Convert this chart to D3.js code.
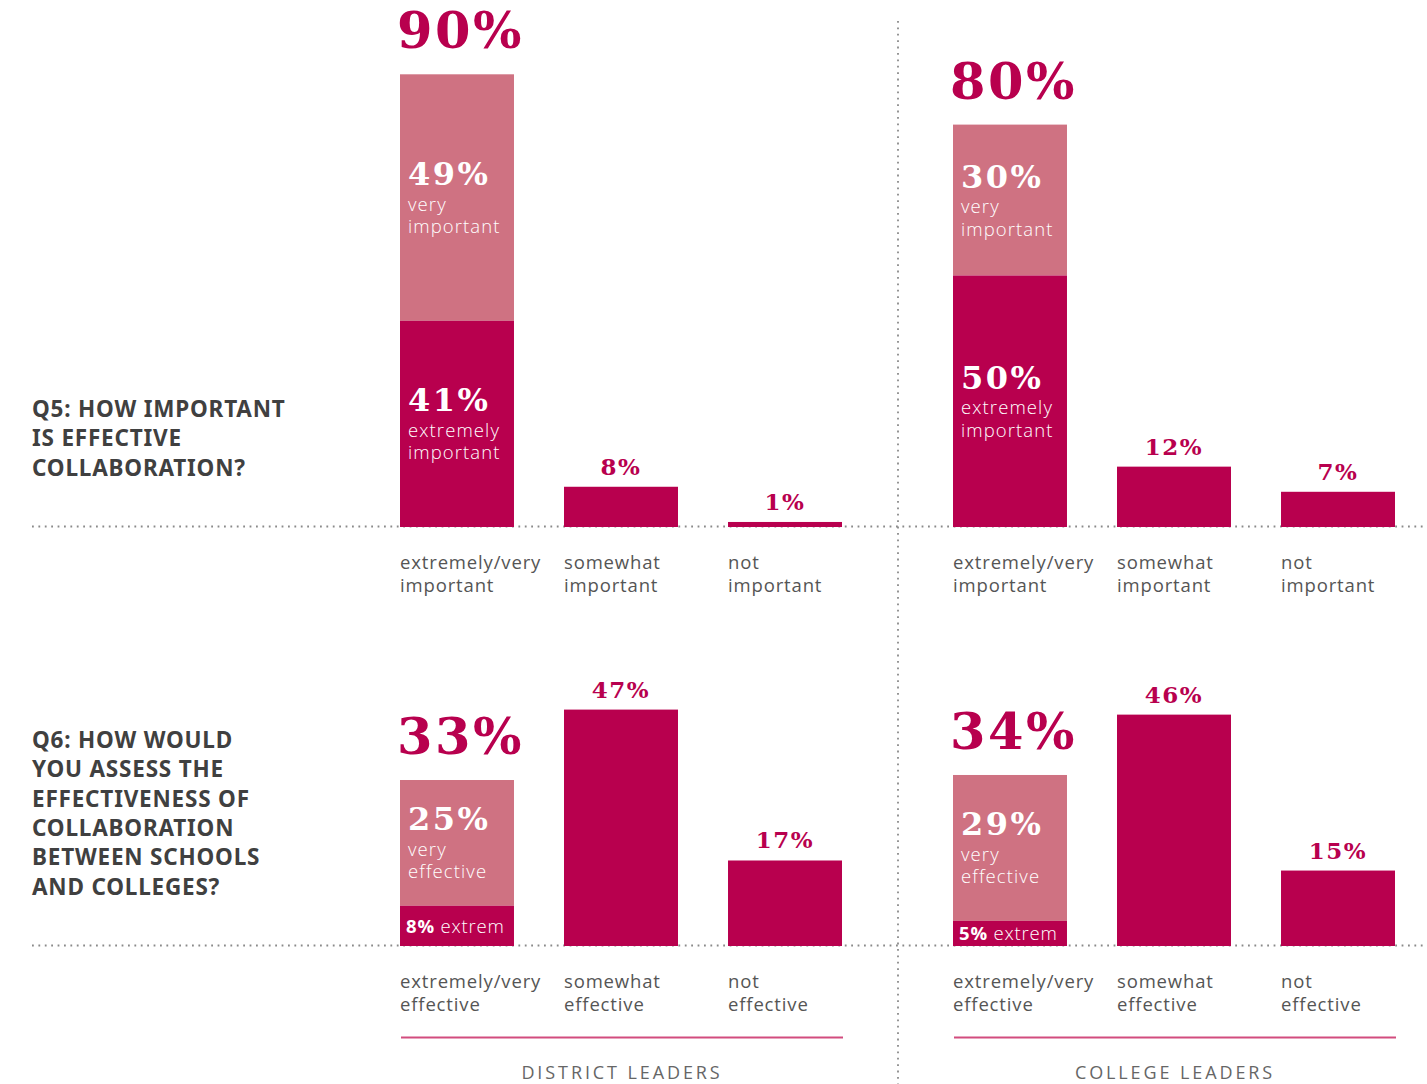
<!DOCTYPE html>
<html><head><meta charset="utf-8">
<script src="https://cdn.jsdelivr.net/npm/d3@7"></script>
<style>
html,body{margin:0;padding:0;background:#fff;}
svg{display:block;}
</style></head>
<body>
<script>
// ---------- DATA ----------
const groups = ["DISTRICT LEADERS", "COLLEGE LEADERS"];
const questions = [
  ["Q5: HOW IMPORTANT", "IS EFFECTIVE", "COLLABORATION?"],
  ["Q6: HOW WOULD", "YOU ASSESS THE", "EFFECTIVENESS OF", "COLLABORATION", "BETWEEN SCHOOLS", "AND COLLEGES?"]
];
const categoriesQ5 = [["extremely/very", "important"], ["somewhat", "important"], ["not", "important"]];
const categoriesQ6 = [["extremely/very", "effective"], ["somewhat", "effective"], ["not", "effective"]];
// values by group [district, college]
const extremelyQ5 = [41, 50];
const veryQ5 = [49, 30];
const somewhatQ5 = [8, 12];
const notQ5 = [1, 7];
const extremelyQ6 = [8, 5];
const veryQ6 = [25, 29];
const somewhatQ6 = [47, 46];
const notQ6 = [17, 15];
const innerLabelsQ5 = { extremely: ["extremely", "important"], very: ["very", "important"] };
const innerLabelsQ6 = { extremely: ["extrem"], very: ["very", "effective"] };

// ---------- STYLE / LAYOUT ----------
const W = 1427, H = 1084;
const DARK = "#b8004e", LIGHT = "#cf7282";
const SERIF = "'DejaVu Serif', serif";
const SANS = "'Open Sans', 'Noto Sans', sans-serif";
const QFONT = "'Noto Sans', 'Open Sans', sans-serif";

const svg = d3.select("body").append("svg").attr("width", W).attr("height", H);

const rows = [
  { baseline: 527, cats: categoriesQ5, ext: extremelyQ5, very: veryQ5, some: somewhatQ5, not: notQ5, inner: innerLabelsQ5, qTop: 417 },
  { baseline: 946, cats: categoriesQ6, ext: extremelyQ6, very: veryQ6, some: somewhatQ6, not: notQ6, inner: innerLabelsQ6, qTop: 748 }
];
const colRanges = [[400, 842], [953, 1395]];
const xScales = colRanges.map(r => d3.scaleBand().domain([0, 1, 2]).range(r).paddingInner(0.305).paddingOuter(0));

// dotted guide lines
const dotted = g => g.attr("stroke", "#8a8a8a").attr("stroke-width", 1.8).attr("stroke-dasharray", "1.8 4.6").attr("stroke-linecap", "butt");
svg.append("line").attr("x1", 898).attr("x2", 898).attr("y1", 21).attr("y2", H).call(dotted);
rows.forEach(r => {
  svg.append("line").attr("x1", 32).attr("x2", W).attr("y1", r.baseline - 0.5).attr("y2", r.baseline - 0.5).call(dotted);
});

// questions
rows.forEach((r, ri) => {
  const t = svg.append("text").attr("x", 32).attr("y", r.qTop)
    .attr("font-family", QFONT).attr("font-weight", 700).attr("font-size", 22.5)
    .attr("fill", "#404040").attr("letter-spacing", 0.8);
  questions[ri].forEach((line, i) => t.append("tspan").attr("x", 32).attr("dy", i === 0 ? 0 : 29.3).text(line));
});

rows.forEach((r, ri) => {
  const y = d3.scaleLinear().domain([0, 100]).range([r.baseline, r.baseline - 503]);
  groups.forEach((grp, gi) => {
    const x = xScales[gi];
    const g = svg.append("g");
    const bw = x.bandwidth();
    const ext = r.ext[gi], very = r.very[gi], total = ext + very;
    // stacked bar
    g.append("rect").attr("x", x(0)).attr("width", bw).attr("y", y(total)).attr("height", y(ext) - y(total)).attr("fill", LIGHT);
    g.append("rect").attr("x", x(0)).attr("width", bw).attr("y", y(ext)).attr("height", y(0) - y(ext)).attr("fill", DARK);
    // simple bars
    [[1, r.some[gi]], [2, r.not[gi]]].forEach(([ci, v]) => {
      g.append("rect").attr("x", x(ci)).attr("width", bw).attr("y", y(v)).attr("height", y(0) - y(v)).attr("fill", DARK);
      g.append("text").attr("x", x(ci) + bw / 2).attr("y", y(v) - 12).attr("text-anchor", "middle")
        .attr("font-family", SERIF).attr("font-weight", 700).attr("font-size", 23).attr("letter-spacing", 1.5)
        .attr("fill", DARK).text(v + "%");
    });
    // big total label
    g.append("text").attr("x", x(0) - 3).attr("y", y(total) - 26)
      .attr("font-family", SERIF).attr("font-weight", 700).attr("font-size", 51).attr("letter-spacing", 2.5)
      .attr("fill", DARK).text(total + "%");
    // inner labels
    const block = (val, lines, top, bottom) => {
      const mid = (top + bottom) / 2;
      const lh = 22.5, ph = 26;
      const hTotal = ph + lines.length * lh;
      let yy = mid - hTotal / 2 + 23;
      g.append("text").attr("x", x(0) + 8).attr("y", yy).attr("font-family", SERIF).attr("font-weight", 700)
        .attr("font-size", 32).attr("letter-spacing", 2.5).attr("fill", "#fff").text(val + "%");
      yy += 3;
      lines.forEach((l, i) => {
        g.append("text").attr("x", x(0) + 8).attr("y", yy + (i + 1) * lh).attr("font-family", SANS).attr("font-weight", 300)
          .attr("font-size", 18.5).attr("letter-spacing", 1.1).attr("fill", "#fff").text(l);
      });
    };
    block(very, r.inner.very, y(total), y(ext));
    if (r.inner.extremely.length > 1) {
      block(ext, r.inner.extremely, y(ext), y(0));
    } else {
      const t = g.append("text").attr("x", x(0) + 6).attr("y", (y(ext) + y(0)) / 2 + 7)
        .attr("font-family", SANS).attr("font-size", 18.5).attr("letter-spacing", 0.8).attr("fill", "#fff");
      t.append("tspan").attr("font-weight", 700).text(ext + "%");
      t.append("tspan").attr("font-weight", 300).text(" " + r.inner.extremely[0]);
    }
    // category labels
    r.cats.forEach((c, ci) => {
      c.forEach((l, li) => {
        g.append("text").attr("x", x(ci)).attr("y", r.baseline + 42 + li * 22.5)
          .attr("font-family", SANS).attr("font-weight", 400).attr("font-size", 18.5).attr("letter-spacing", 0.85)
          .attr("fill", "#555").text(l);
      });
    });
  });
});

// group footers
groups.forEach((grp, gi) => {
  const [a, b] = colRanges[gi];
  svg.append("line").attr("x1", a + 1).attr("x2", b + 1).attr("y1", 1037.5).attr("y2", 1037.5).attr("stroke", "#d24c7e").attr("stroke-width", 2);
  svg.append("text").attr("x", (a + b) / 2 + 1).attr("y", 1079).attr("text-anchor", "middle")
    .attr("font-family", SANS).attr("font-weight", 400).attr("font-size", 18).attr("letter-spacing", 2.9)
    .attr("fill", "#666").text(grp);
});
</script>
</body></html>
